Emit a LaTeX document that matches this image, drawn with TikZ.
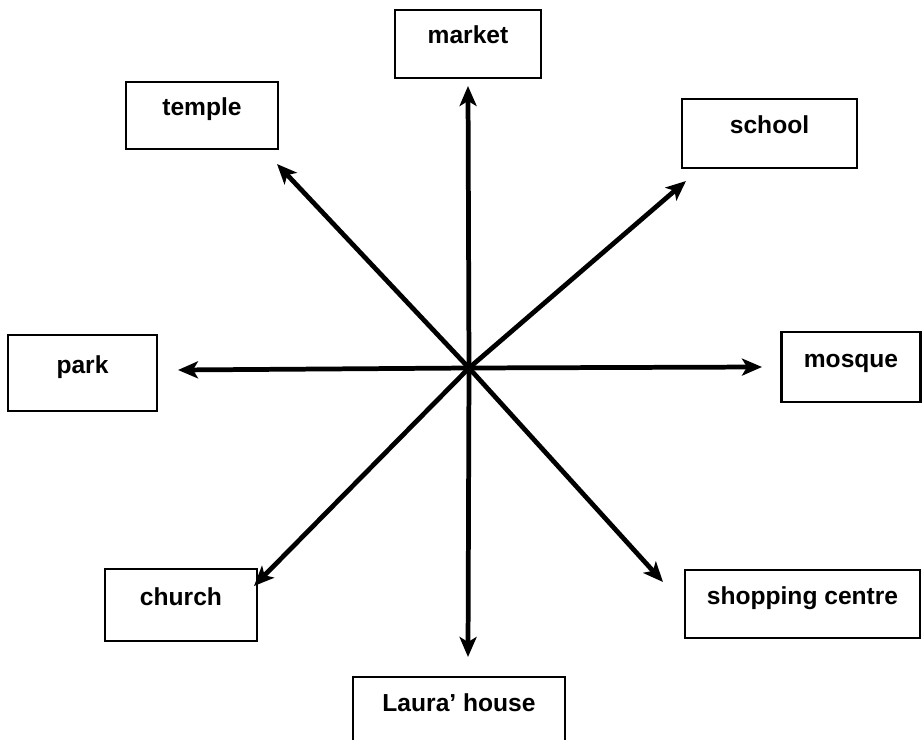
\documentclass[tikz,border=0pt]{standalone}
\usepackage{fontspec}
\setmainfont{Liberation Sans}
\usetikzlibrary{arrows.meta}

\begin{document}
\begin{tikzpicture}[x=0.02cm, y=-0.02cm,
    place/.style={draw, line width=1.6pt, inner sep=0pt, text height=0.7em, text depth=0.7em,
        font=\bfseries\fontsize{14}{16}\selectfont},
    way/.style={-{Stealth[length=0.4cm, width=0.34cm, inset=0.1cm]}, line width=2.7pt}]

    \useasboundingbox (0,0) rectangle (923,740);

    % the places
    \node[place, minimum width=2.92cm, minimum height=1.36cm] (market) at (468,44) {market};
    \node[place, minimum width=3.04cm, minimum height=1.34cm] (temple) at (202,115.5) {temple};
    \node[place, minimum width=3.50cm, minimum height=1.38cm] (school) at (769.5,133.5) {school};
    \node[place, minimum width=2.98cm, minimum height=1.52cm] (park) at (82.5,373) {park};
    \node[place, minimum width=2.78cm, minimum height=1.40cm] (mosque) at (851,367) {mosque};
    \node[place, minimum width=3.04cm, minimum height=1.44cm] (church) at (181,605) {church};
    \node[place, minimum width=4.70cm, minimum height=1.36cm] (shop) at (802.5,604) {shopping centre};
    \node[place, minimum width=4.24cm, minimum height=1.36cm] (laura) at (459,711) {Laura' house};

    % centre and arrow tips
    \coordinate (o) at (469,368);
    \coordinate (tN) at (468,86);
    \coordinate (tS) at (468,657);
    \coordinate (tW) at (178,370);
    \coordinate (tE) at (762,367);
    \coordinate (tNW) at (277,164);
    \coordinate (tNE) at (686,181);
    \coordinate (tSW) at (254,586);
    \coordinate (tSE) at (663,582);

    % arrows
    \foreach \t in {tN,tS,tW,tE,tNW,tNE,tSW,tSE}
        \draw[way] (o) -- (\t);

\end{tikzpicture}
\end{document}
